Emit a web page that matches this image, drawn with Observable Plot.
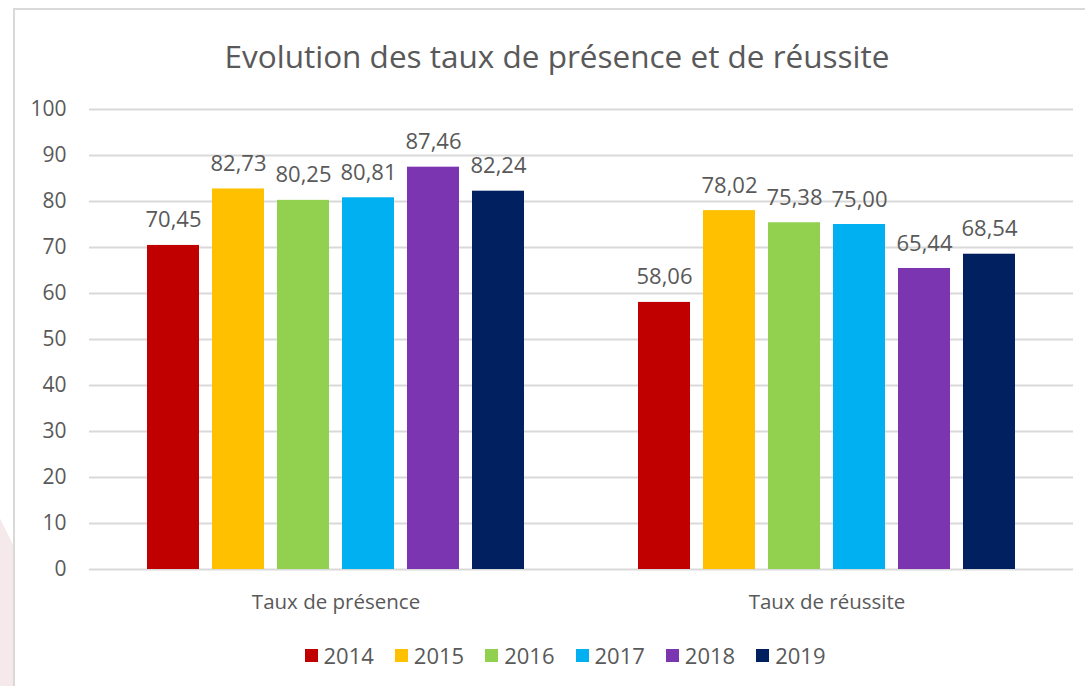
<!DOCTYPE html>
<html>
<head>
<meta charset="utf-8">
<script src="https://cdn.jsdelivr.net/npm/d3@7"></script>
<script src="https://cdn.jsdelivr.net/npm/@observablehq/plot@0.6"></script>
<style>
  html, body { margin: 0; padding: 0; background: #fff; }
  body { width: 1085px; height: 686px; position: relative; overflow: hidden; font-family: "Open Sans", sans-serif; }
  #pink { position: absolute; left: 0; top: 500px; width: 14px; height: 186px; background: #f5e9eb; clip-path: polygon(0 10%, 100% 25%, 100% 100%, 0 100%); }
  #frame { position: absolute; left: 13px; top: 8px; width: 1100px; height: 700px; border-left: 2px solid #d9d9d9; border-top: 2px solid #d9d9d9; box-sizing: border-box; }
  #title { position: absolute; left: 13px; width: 1088px; top: 35px; text-align: center; font-size: 31.5px; color: #595959; line-height: 42px; }
  #bg, #fg { position: absolute; left: 0; top: 90px; }
  #legend { position: absolute; left: 0; width: 1130px; top: 640px; display: flex; justify-content: center; gap: 21px; font-size: 22px; color: #595959; line-height: 30px; }
  .item { display: flex; align-items: center; gap: 6px; }
  .sw { width: 13px; height: 13px; display: inline-block; }
</style>
</head>
<body>
<div id="pink"></div>
<div id="frame"></div>
<div id="title">Evolution des taux de présence et de réussite</div>
<div id="bg"></div>
<div id="fg"></div>
<div id="legend"></div>
<script>
const categories = ["Taux de présence", "Taux de réussite"];
const years = ["2014", "2015", "2016", "2017", "2018", "2019"];
const presence = [70.45, 82.73, 80.25, 80.81, 87.46, 82.24];
const reussite = [58.06, 78.02, 75.38, 75.00, 65.44, 68.54];
const colors = ["#C00000", "#FFC000", "#92D050", "#00B0F0", "#7B35B0", "#002060"];
const yTicks = [0, 10, 20, 30, 40, 50, 60, 70, 80, 90, 100];

const series = [presence, reussite];
const data = categories.flatMap((c, i) => years.map((y, j) => ({category: c, year: y, value: series[i][j]})));
const fmt = v => v.toFixed(2).replace(".", ",");

const common = {
  width: 1085, height: 540,
  marginLeft: 89, marginRight: 12, marginTop: 19, marginBottom: 61,
  y: {domain: [0, 100], ticks: yTicks, label: null}
};

const bg = Plot.plot({
  ...common,
  style: {fontFamily: "Open Sans", fontSize: "21px", color: "#595959", background: "transparent", overflow: "visible"},
  marks: [
    Plot.ruleY(yTicks, {stroke: "#d9d9d9", strokeWidth: 2}),
    Plot.axisY(yTicks, {tickSize: 0, tickPadding: 23, label: null, fill: "#595959", tickFormat: d => String(d)})
  ]
});
document.getElementById("bg").appendChild(bg);

const fg = Plot.plot({
  ...common,
  style: {fontFamily: "Open Sans", fontSize: "22px", color: "#595959", background: "transparent", overflow: "visible"},
  fx: {domain: categories, paddingInner: 0.229, paddingOuter: 0.115, label: null},
  x: {domain: years, paddingInner: 0.207, paddingOuter: 0, axis: null},
  color: {domain: years, range: colors},
  marks: [
    Plot.barY(data, {fx: "category", x: "year", y: "value", fill: "year"}),
    Plot.text(data, {fx: "category", x: "year", y: "value", text: d => fmt(d.value), dy: -25, fill: "#595959", fontSize: 22}),
    Plot.axisFx({anchor: "bottom", tickSize: 0, tickPadding: 25, label: null, fontSize: 20.5, fill: "#595959"}),
    Plot.axisY({ticks: [], label: null, tickSize: 0, tickFormat: () => ""})
  ]
});
document.getElementById("fg").appendChild(fg);

const legend = document.getElementById("legend");
years.forEach((y, i) => {
  const it = document.createElement("div");
  it.className = "item";
  const sw = document.createElement("span");
  sw.className = "sw";
  sw.style.background = colors[i];
  const t = document.createElement("span");
  t.textContent = y;
  it.appendChild(sw);
  it.appendChild(t);
  legend.appendChild(it);
});
</script>
</body>
</html>
